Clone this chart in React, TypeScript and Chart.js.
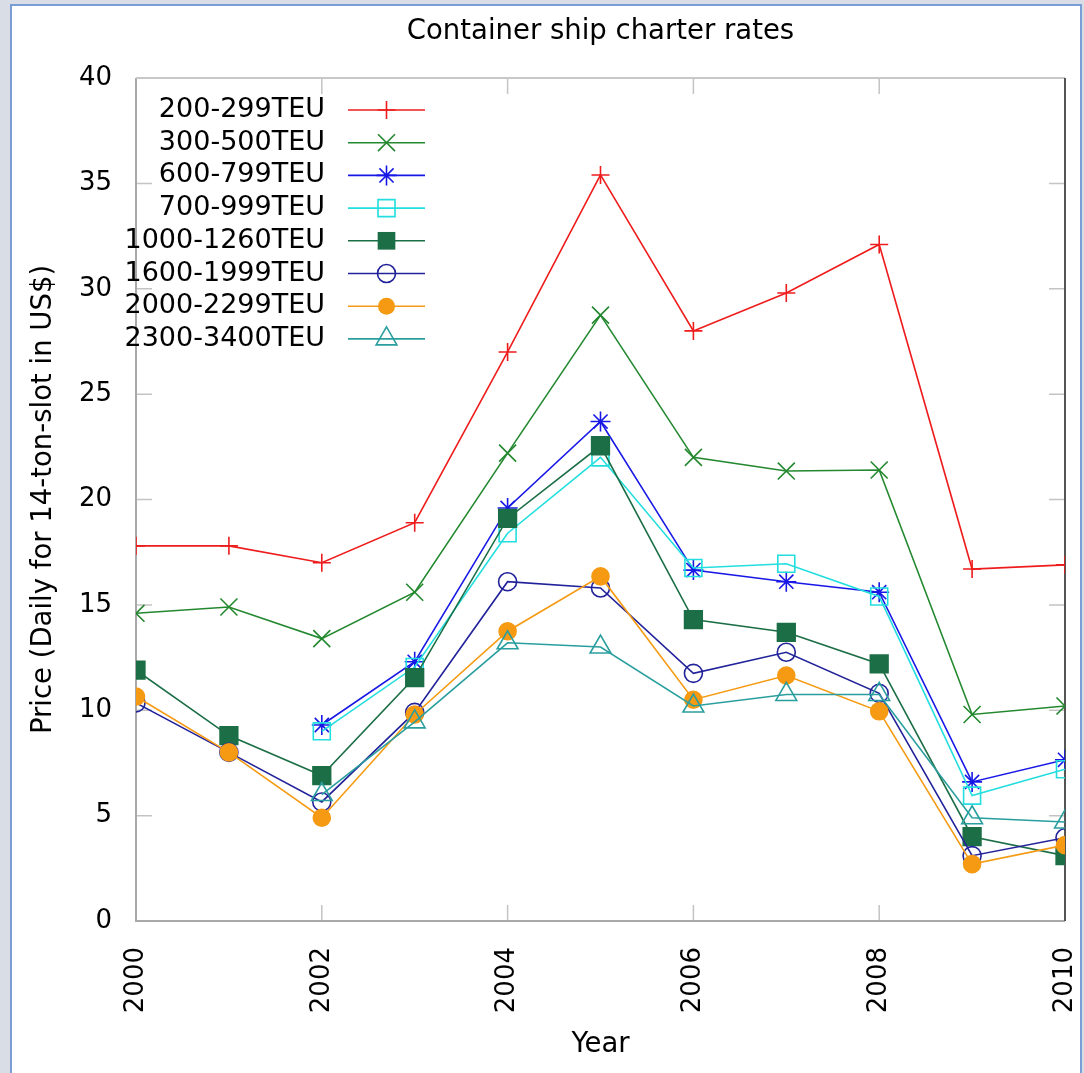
import React, { useEffect, useRef } from 'react';
import { Chart, registerables } from 'chart.js';

Chart.register(...registerables);

const years = [2000, 2001, 2002, 2003, 2004, 2005, 2006, 2007, 2008, 2009, 2010];

const seriesNames = [
  '200-299TEU',
  '300-500TEU',
  '600-799TEU',
  '700-999TEU',
  '1000-1260TEU',
  '1600-1999TEU',
  '2000-2299TEU',
  '2300-3400TEU',
];

const teu200 = [17.8, 17.8, 17.0, 18.9, 27.0, 35.4, 28.0, 29.8, 32.1, 16.7, 16.9];
const teu300 = [14.6, 14.9, 13.4, 15.6, 22.2, 28.75, 22.0, 21.35, 21.4, 9.8, 10.2];
const teu600 = [null, null, 9.3, 12.3, 19.6, 23.7, 16.65, 16.1, 15.6, 6.6, 7.65];
const teu700 = [null, null, 9.0, 12.05, 18.4, 22.0, 16.75, 16.95, 15.4, 5.95, 7.2];
const teu1000 = [11.9, 8.8, 6.9, 11.55, 19.1, 22.55, 14.3, 13.7, 12.2, 4.0, 3.1];
const teu1600 = [10.35, 8.0, 5.65, 9.9, 16.1, 15.8, 11.75, 12.75, 10.8, 3.1, 3.95];
const teu2000 = [10.65, 8.0, 4.9, 9.8, 13.75, 16.35, 10.5, 11.65, 9.95, 2.7, 3.6];
const teu2300 = [null, null, 6.0, 9.45, 13.2, 13.0, 10.2, 10.75, 10.75, 4.9, 4.7];

const seriesValues = [teu200, teu300, teu600, teu700, teu1000, teu1600, teu2000, teu2300];

const xTicks = [2000, 2002, 2004, 2006, 2008, 2010];
const yTicks = [0, 5, 10, 15, 20, 25, 30, 35, 40];

const FONT = 'DejaVu Sans';

type Sty = { color: string; style: string; radius: number; filled: boolean };
const styles: Sty[] = [
  { color: '#ee1c1c', style: 'cross', radius: 9, filled: false },
  { color: '#23882f', style: 'crossRot', radius: 12, filled: false },
  { color: '#1818e6', style: 'star', radius: 10, filled: false },
  { color: '#22dede', style: 'rect', radius: 12, filled: false },
  { color: '#1b6e46', style: 'rect', radius: 12.5, filled: true },
  { color: '#22229a', style: 'circle', radius: 9, filled: false },
  { color: '#f59a12', style: 'circle', radius: 8.5, filled: true },
  { color: '#2a9e9e', style: 'triangle', radius: 12, filled: false },
];

function drawMarker(ctx: CanvasRenderingContext2D, s: Sty, x: number, y: number) {
  const r = s.radius;
  ctx.save();
  ctx.strokeStyle = s.color;
  ctx.fillStyle = s.color;
  ctx.lineWidth = 1.6;
  ctx.beginPath();
  const d = r * Math.SQRT1_2;
  switch (s.style) {
    case 'cross':
      ctx.moveTo(x, y - r); ctx.lineTo(x, y + r);
      ctx.moveTo(x - r, y); ctx.lineTo(x + r, y);
      ctx.stroke();
      break;
    case 'crossRot':
      ctx.moveTo(x - d, y - d); ctx.lineTo(x + d, y + d);
      ctx.moveTo(x - d, y + d); ctx.lineTo(x + d, y - d);
      ctx.stroke();
      break;
    case 'star':
      ctx.moveTo(x, y - r); ctx.lineTo(x, y + r);
      ctx.moveTo(x - r, y); ctx.lineTo(x + r, y);
      ctx.moveTo(x - d, y - d); ctx.lineTo(x + d, y + d);
      ctx.moveTo(x - d, y + d); ctx.lineTo(x + d, y - d);
      ctx.stroke();
      break;
    case 'rect':
      ctx.rect(x - d, y - d, 2 * d, 2 * d);
      if (s.filled) ctx.fill(); else ctx.stroke();
      break;
    case 'circle':
      ctx.arc(x, y, r, 0, Math.PI * 2);
      if (s.filled) ctx.fill(); else ctx.stroke();
      break;
    case 'triangle':
      ctx.moveTo(x, y - r);
      ctx.lineTo(x + 0.866 * r, y + 0.5 * r);
      ctx.lineTo(x - 0.866 * r, y + 0.5 * r);
      ctx.closePath();
      ctx.stroke();
      break;
  }
  ctx.restore();
}

const framePlugin = {
  id: 'gnuFrame',
  beforeDatasetsDraw(chart: any) {
    const { ctx, chartArea } = chart;
    const { left, right, top, bottom } = chartArea;
    const xs = chart.scales.x;
    const ys = chart.scales.y;
    ctx.save();
    ctx.lineWidth = 1.5;
    ctx.strokeStyle = '#c4c4c4';
    const tl = 16;
    ctx.beginPath();
    for (const v of yTicks) {
      const py = ys.getPixelForValue(v);
      ctx.moveTo(left, py); ctx.lineTo(left + tl, py);
      ctx.moveTo(right, py); ctx.lineTo(right - tl, py);
    }
    for (const v of xTicks) {
      const px = xs.getPixelForValue(v);
      ctx.moveTo(px, bottom); ctx.lineTo(px, bottom - tl);
      ctx.moveTo(px, top); ctx.lineTo(px, top + tl);
    }
    ctx.stroke();
    ctx.lineWidth = 2;
    ctx.strokeStyle = '#a9a9a9';
    ctx.beginPath();
    ctx.moveTo(left, top); ctx.lineTo(left, bottom); ctx.lineTo(right, bottom);
    ctx.stroke();
    ctx.strokeStyle = '#c8c8c8';
    ctx.beginPath();
    ctx.moveTo(left, top); ctx.lineTo(right, top);
    ctx.stroke();
    ctx.strokeStyle = '#555555';
    ctx.beginPath();
    ctx.moveTo(right, top); ctx.lineTo(right, bottom);
    ctx.stroke();
    ctx.restore();
  },
};

const legendPlugin = {
  id: 'gnuLegend',
  afterDatasetsDraw(chart: any) {
    const { ctx } = chart;
    const textRight = 325;
    const lineX0 = 348;
    const lineX1 = 425;
    const y0 = 110;
    const dy = 32.7;
    ctx.save();
    ctx.font = `27px "${FONT}"`;
    ctx.textAlign = 'right';
    ctx.textBaseline = 'middle';
    seriesNames.forEach((name, i) => {
      const y = y0 + i * dy;
      const s = styles[i];
      ctx.fillStyle = '#000';
      ctx.fillText(name, textRight, y);
      ctx.strokeStyle = s.color;
      ctx.lineWidth = 1.6;
      ctx.beginPath();
      ctx.moveTo(lineX0, y); ctx.lineTo(lineX1, y);
      ctx.stroke();
      drawMarker(ctx, s, (lineX0 + lineX1) / 2, y);
    });
    ctx.restore();
  },
};

export default function App() {
  const ref = useRef<HTMLCanvasElement | null>(null);

  useEffect(() => {
    if (!ref.current) return;
    const tickFont = { family: FONT, size: 26 };
    const titleFont = { family: FONT, size: 27.5 };
    const datasets = seriesNames.map((name, i) => {
      const s = styles[i];
      return {
        label: name,
        data: years.map((yr, j) => ({ x: yr, y: seriesValues[i][j] })),
        borderColor: s.color,
        backgroundColor: s.color,
        borderWidth: 1.6,
        pointStyle: s.style,
        pointRadius: s.radius,
        pointBorderWidth: 1.6,
        pointBorderColor: s.color,
        pointBackgroundColor: s.filled ? s.color : 'rgba(0,0,0,0)',
        fill: false,
        tension: 0,
        spanGaps: false,
        order: 10 - i,
      };
    });
    const chart = new Chart(ref.current, {
      type: 'line',
      data: { datasets: datasets as any },
      plugins: [framePlugin, legendPlugin],
      options: {
        animation: false,
        responsive: false,
        devicePixelRatio: 1,
        layout: { padding: { top: 0, right: 19, bottom: 0, left: 0 } },
        plugins: {
          legend: { display: false },
          tooltip: { enabled: false },
          title: {
            display: true,
            fullSize: false,
            text: 'Container ship charter rates',
            color: '#000',
            font: { family: FONT, size: 27.5, weight: 'normal' },
            padding: { top: 15, bottom: 30 },
          },
        },
        scales: {
          x: {
            type: 'linear',
            min: 2000,
            max: 2010,
            grid: { display: false, drawTicks: false },
            border: { display: false },
            ticks: {
              stepSize: 2,
              minRotation: 90,
              maxRotation: 90,
              padding: 26,
              color: '#000',
              font: tickFont,
              callback: (v: any) => String(v),
            },
            title: {
              display: true,
              text: 'Year',
              color: '#000',
              font: titleFont,
              padding: { top: 0, bottom: 12 },
            },
            afterFit: (s: any) => {
              s.height = 152;
              s.paddingLeft = 0;
              s.paddingRight = 0;
            },
          },
          y: {
            min: 0,
            max: 40,
            grid: { display: false, drawTicks: false },
            border: { display: false },
            ticks: { stepSize: 5, padding: 24, color: '#000', font: tickFont },
            title: {
              display: true,
              text: 'Price (Daily for 14-ton-slot in US$)',
              color: '#000',
              font: titleFont,
              padding: { top: 27.5, bottom: 0 },
            },
            afterFit: (s: any) => {
              s.width = 136;
              s.paddingTop = 0;
              s.paddingBottom = 0;
            },
          },
        },
      } as any,
    });
    return () => chart.destroy();
  }, []);

  return (
    <div style={{ position: 'fixed', left: 0, top: 0, width: 1084, height: 1073, background: '#d9dee6', overflow: 'hidden' }}>
      <div
        style={{
          position: 'absolute',
          left: 10,
          top: 4,
          width: 1072,
          height: 1080,
          background: '#ffffff',
          border: '2px solid #7a9dd6',
          boxSizing: 'border-box',
        }}
      />
      <canvas ref={ref} width={1084} height={1073} style={{ position: 'absolute', left: 0, top: 0, width: 1084, height: 1073 }} />
    </div>
  );
}
